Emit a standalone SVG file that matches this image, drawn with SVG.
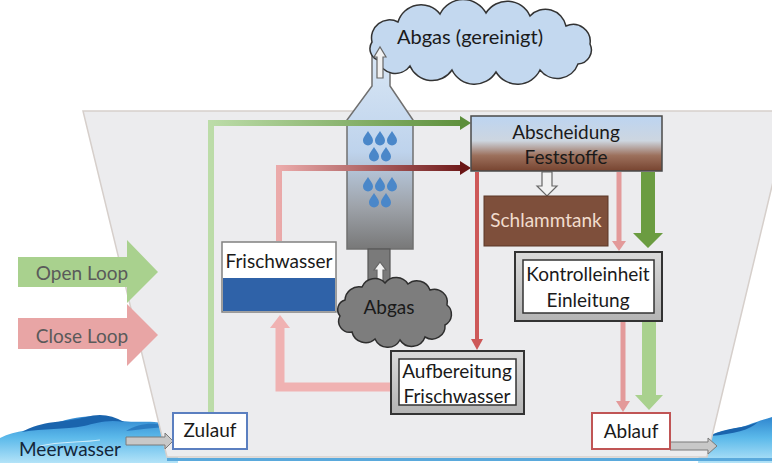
<svg xmlns="http://www.w3.org/2000/svg" width="772" height="465" viewBox="0 0 772 465">
  <defs>
    <style>
      text { font-family: Lato, "Open Sans", "Liberation Sans", sans-serif; }
      .lbl { font-size: 19px; fill: #1a1a1a; text-anchor: middle; }
      .legend { font-size: 19px; fill: #5a5a5a; text-anchor: middle; }
      .boxframe { fill: url(#frameGrad); stroke: #333; stroke-width: 2; }
      .boxinner { fill: #ffffff; stroke: #333; stroke-width: 1.5; }
      .hollow { fill: #f2f2f2; stroke: #666; stroke-width: 1.2; }
      .pipe { fill: none; stroke-linejoin: miter; }
    </style>
    <linearGradient id="towerGrad" x1="0" y1="55" x2="0" y2="249" gradientUnits="userSpaceOnUse">
      <stop offset="0" stop-color="#d8e6f5"/>
      <stop offset="0.5" stop-color="#bed3ec"/>
      <stop offset="0.78" stop-color="#9ea3aa"/>
      <stop offset="1" stop-color="#787878"/>
    </linearGradient>
    <linearGradient id="sepGrad" x1="0" y1="0" x2="0" y2="1">
      <stop offset="0" stop-color="#bcd4f1"/>
      <stop offset="0.45" stop-color="#cdd6e0"/>
      <stop offset="0.72" stop-color="#9c705c"/>
      <stop offset="1" stop-color="#774430"/>
    </linearGradient>
    <linearGradient id="frameGrad" x1="0" y1="0" x2="0" y2="1">
      <stop offset="0" stop-color="#dadada"/>
      <stop offset="1" stop-color="#b4b4b4"/>
    </linearGradient>
    <linearGradient id="greenPipe" x1="211" y1="0" x2="470" y2="0" gradientUnits="userSpaceOnUse">
      <stop offset="0" stop-color="#bcdca8"/>
      <stop offset="1" stop-color="#5c8e3a"/>
    </linearGradient>
    <linearGradient id="redPipe" x1="279" y1="0" x2="470" y2="0" gradientUnits="userSpaceOnUse">
      <stop offset="0" stop-color="#ebaaaa"/>
      <stop offset="1" stop-color="#6a1515"/>
    </linearGradient>
    <linearGradient id="seaGrad" x1="0" y1="0" x2="0" y2="1">
      <stop offset="0" stop-color="#2f86cf"/>
      <stop offset="0.45" stop-color="#5bb9ea"/>
      <stop offset="1" stop-color="#b3e3f8"/>
    </linearGradient>
    <path id="drop" d="M0,-7 C2.5,-3 5,-0.5 5,2.5 A5,5 0 0 1 -5,2.5 C-5,-0.5 -2.5,-3 0,-7 Z" fill="#4a87c9"/>
  </defs>

  <rect width="772" height="465" fill="#ffffff"/>

  <!-- sea water -->
  <g id="sea">
    <path d="M0,438 C16,430 34,430 50,425 C70,418 92,413 112,419 C132,425 150,418 178,426 L178,463 L0,463 Z" fill="url(#seaGrad)"/>
    <path d="M22,432 C42,420 64,423 86,417 C100,413 112,415 124,422 C108,419 96,423 84,426 C64,430 44,428 22,432 Z" fill="#1a64ad"/>
    <path d="M126,431 C140,422 156,422 172,427 C158,427 146,429 126,431 Z" fill="#2a7cc2"/>
    <path d="M40,446 C60,441 80,443 100,440" fill="none" stroke="#e6f6fd" stroke-width="1.2" opacity="0.8"/>
    <path d="M700,440 C716,430 734,430 748,425 C758,421 766,419 772,417 L772,463 L698,463 Z" fill="url(#seaGrad)"/>
    <path d="M710,436 C726,427 742,429 758,422 C750,430 734,434 710,436 Z" fill="#1a64ad"/>
  </g>

  <!-- ship hull -->
  <g id="hull">
    <polygon points="83,111 790,111 707,457 167,457" fill="#ececee" stroke="#d6cfcb" stroke-width="1.5"/>
    <line x1="167" y1="459.5" x2="772" y2="459.5" stroke="#5aa9dc" stroke-width="3"/>
  </g>

  <!-- scrubber tower -->
  <g id="scrubber">
    <polygon points="372,55 390,55 390,86 413,120 413,249 347,249 347,120 372,86" fill="url(#towerGrad)" stroke="#707070" stroke-width="1.5"/>
    <rect x="368" y="249" width="22" height="36" fill="#7a7a7a" stroke="#555" stroke-width="1.2"/>
    <use href="#drop" x="368" y="138"/>
    <use href="#drop" x="380" y="138"/>
    <use href="#drop" x="392" y="138"/>
    <use href="#drop" x="374" y="154"/>
    <use href="#drop" x="386" y="154"/>
    <use href="#drop" x="368" y="184"/>
    <use href="#drop" x="380" y="184"/>
    <use href="#drop" x="392" y="184"/>
    <use href="#drop" x="374" y="200"/>
    <use href="#drop" x="386" y="200"/>
  </g>

  <!-- flows -->
  <g id="connectors">
    <!-- open loop supply -->
    <path class="pipe" d="M211,413 L211,123 L462,123" stroke="url(#greenPipe)" stroke-width="6"/>
    <polygon points="460,116 471,123 460,130" fill="#5c8e3a"/>
    <!-- closed loop supply -->
    <path class="pipe" d="M279,241 L279,168 L462,168" stroke="url(#redPipe)" stroke-width="6"/>
    <polygon points="460,161 471,168 460,175" fill="#6a1515"/>
    <!-- separator to treatment -->
    <line x1="477" y1="172" x2="477" y2="340" stroke="#cd5858" stroke-width="4"/>
    <polygon points="471,339 483,339 477,350" fill="#cd5858"/>
    <!-- separator to sludge tank -->
    <path class="hollow" d="M542,172 L552,172 L552,186 L557,186 L547,196 L537,186 L542,186 Z"/>
    <!-- separator to control unit -->
    <line x1="619" y1="172" x2="619" y2="242" stroke="#e39a9a" stroke-width="5"/>
    <polygon points="612,241 626,241 619,251" fill="#e39a9a"/>
    <path d="M641,172 L655,172 L655,233 L663,233 L648,248 L633,233 L641,233 Z" fill="#6b9c41"/>
    <!-- control unit to outlet -->
    <line x1="623" y1="321" x2="623" y2="402" stroke="#e39a9a" stroke-width="5"/>
    <polygon points="616,401 630,401 623,412" fill="#e39a9a"/>
    <path d="M642,321 L656,321 L656,395 L663,395 L649,410 L635,395 L642,395 Z" fill="#a9d18e"/>
    <!-- treatment back to fresh water -->
    <path class="pipe" d="M391,387 L280,387 L280,327" stroke="#f0b2b2" stroke-width="9"/>
    <polygon points="270,328 290,328 280,315" fill="#f0b2b2"/>
    <!-- sea water in / out -->
    <path d="M126,437 L165,437 L165,433 L173,441 L165,449 L165,445 L126,445 Z" fill="#c8c8c8" stroke="#7a7a7a" stroke-width="1"/>
    <path d="M670,442 L708,442 L708,438 L717,446 L708,454 L708,450 L670,450 Z" fill="#c8c8c8" stroke="#7a7a7a" stroke-width="1"/>
    <!-- exhaust into tower -->
    <path class="hollow" d="M377,285 L377,270 L374,270 L380,262 L386,270 L383,270 L383,285 Z"/>
  </g>

  <!-- exhaust gas cloud -->
  <g id="exhaust">
    <path d="M345,300 A14,14 0 0 1 362,287 A14,14 0 0 1 385,283 A14,14 0 0 1 408,284 A14,14 0 0 1 430,290 A13,13 0 0 1 447,305 A12,12 0 0 1 445,325 A13,13 0 0 1 425,337 A14,14 0 0 1 400,340 A14,14 0 0 1 375,339 A14,14 0 0 1 352,332 A11,11 0 0 1 340,316 A10,10 0 0 1 345,300 Z" fill="#7d7d7d" stroke="#2e2e2e" stroke-width="1.5"/>
    <text class="lbl" x="389" y="314">Abgas</text>
  </g>

  <!-- cleaned exhaust cloud -->
  <g id="clean-exhaust">
    <path d="M372,42 A18,18 0 0 1 398,22 A24,24 0 0 1 440,14 A26,26 0 0 1 486,13 A25,25 0 0 1 530,16 A21,21 0 0 1 566,26 A17,17 0 0 1 590,44 A14,14 0 0 1 578,64 A22,22 0 0 1 540,70 A25,25 0 0 1 496,72 A25,25 0 0 1 452,70 A24,24 0 0 1 410,66 A18,18 0 0 1 378,60 A12,12 0 0 1 372,42 Z" fill="#c3d8ef" stroke="#333" stroke-width="1.5"/>
    <text class="lbl" x="470" y="44" style="font-size:20px">Abgas (gereinigt)</text>
    <path class="hollow" d="M377,78 L377,57 L374,57 L380,47 L386,57 L383,57 L383,78 Z"/>
  </g>

  <g id="frischwasser">
    <rect x="222" y="242" width="114" height="70" fill="#ffffff" stroke="#808080" stroke-width="1.5"/>
    <rect x="223" y="278" width="112" height="33" fill="#2f62a8"/>
    <text class="lbl" x="279" y="268">Frischwasser</text>
  </g>

  <g id="abscheidung">
    <rect x="471" y="116" width="191" height="55" fill="url(#sepGrad)" stroke="#4a4a4a" stroke-width="1.5"/>
    <text class="lbl" x="566" y="139">Abscheidung</text>
    <text class="lbl" x="566" y="164">Feststoffe</text>
  </g>

  <g id="schlammtank">
    <rect x="484" y="196" width="124" height="50" fill="#7e4f3b" stroke="#5a3727" stroke-width="1"/>
    <text class="lbl" x="546" y="227" style="fill:#f1dccd">Schlammtank</text>
  </g>

  <g id="kontrolleinheit">
    <rect class="boxframe" x="515" y="252" width="147" height="69"/>
    <rect class="boxinner" x="523" y="260" width="131" height="53"/>
    <text class="lbl" x="588" y="281">Kontrolleinheit</text>
    <text class="lbl" x="588" y="307">Einleitung</text>
  </g>

  <g id="aufbereitung">
    <rect class="boxframe" x="391" y="351" width="133" height="63"/>
    <rect class="boxinner" x="399" y="359" width="117" height="46"/>
    <text class="lbl" x="457" y="378">Aufbereitung</text>
    <text class="lbl" x="457" y="403">Frischwasser</text>
  </g>

  <g id="zulauf">
    <rect x="173" y="413" width="74" height="36" fill="#ffffff" stroke="#5b7fc0" stroke-width="2"/>
    <text class="lbl" x="210" y="437">Zulauf</text>
  </g>

  <g id="ablauf">
    <rect x="592" y="413" width="78" height="36" fill="#ffffff" stroke="#c05555" stroke-width="2"/>
    <text class="lbl" x="631" y="438">Ablauf</text>
  </g>

  <g id="meerwasser">
    <text x="19" y="456" style="font-size:19px;fill:#14263a">Meerwasser</text>
  </g>

  <g id="open-loop">
    <path d="M18,257 L127,257 L127,240 L158,272 L127,303 L127,287 L18,287 Z" fill="#a9d18e"/>
    <text class="legend" x="82" y="280">Open Loop</text>
  </g>

  <g id="close-loop">
    <path d="M18,318 L127,318 L127,304 L158,335 L127,366 L127,349 L18,349 Z" fill="#e8a5a5"/>
    <text class="legend" x="82" y="343">Close Loop</text>
  </g>
</svg>
